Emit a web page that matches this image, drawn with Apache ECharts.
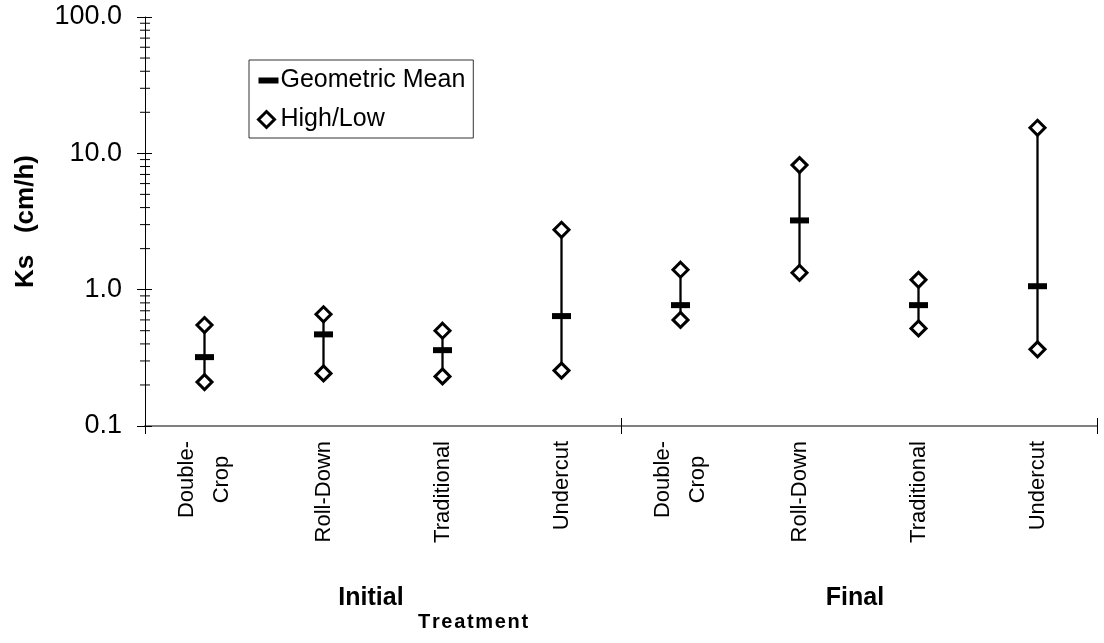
<!DOCTYPE html>
<html>
<head>
<meta charset="utf-8">
<script src="https://cdn.jsdelivr.net/npm/echarts@6/dist/echarts.min.js"></script>
<style>html,body{margin:0;padding:0;background:#fff;}#c{width:1104px;height:643px;}</style>
</head>
<body>
<div id="c"></div>
<script>
const categories = ['Double-\nCrop','Roll-Down','Traditional','Undercut','Double-\nCrop','Roll-Down','Traditional','Undercut'];
const groups = ['Initial','Final'];
const meanValues = [0.32, 0.47, 0.36, 0.64, 0.77, 3.22, 0.77, 1.06];
const highValues = [0.55, 0.66, 0.50, 2.75, 1.40, 8.2, 1.18, 15.4];
const lowValues  = [0.21, 0.243, 0.231, 0.255, 0.60, 1.33, 0.52, 0.365];
const yMin = 0.1, yMax = 100;
const minorTickValues = [0.2,0.3,0.4,0.5,0.6,0.7,0.8,0.9,2,3,4,5,6,7,8,9,20,30,40,50,60,70,80,90];
const yAxisTitle = 'Ks   (cm/h)';
const xAxisTitle = 'Treatment';

const FONT = 'Liberation Sans, Arial, sans-serif';
const chart = echarts.init(document.getElementById('c'), null, {renderer:'canvas'});

const rangeData = categories.map((c,i)=>[i, lowValues[i], highValues[i]]);
const meanData = categories.map((c,i)=>[i, meanValues[i]]);
const hlData = [];
categories.forEach((c,i)=>{ hlData.push([i, highValues[i]]); hlData.push([i, lowValues[i]]); });
const minorData = minorTickValues.map(v=>[0, v]);

const yBase = {type:'log', logBase:10, min:yMin, max:yMax, splitLine:{show:false}};

chart.setOption({
  animation:false,
  textStyle:{fontFamily:FONT, color:'#000'},
  grid:{left:145, right:7, top:17, bottom:217, containLabel:false},
  legend:{
    orient:'vertical', left:249, top:60,
    padding:[8,8,6,6], itemGap:14, itemWidth:22, itemHeight:20,
    borderColor:'#333', borderWidth:1, backgroundColor:'#fff',
    textStyle:{fontSize:25, fontFamily:FONT, color:'#000', padding:[0,0,0,-3]},
    data:[
      {name:'Geometric Mean', icon:'path://M0,0 M2,7 L22,7 L22,13 L2,13 Z M22,20', itemStyle:{color:'#000', borderWidth:0, opacity:1}},
      {name:'High/Low', icon:'path://M0,0 M10,2 L18,10 L10,18 L2,10 Z M22,20', itemStyle:{color:'#fff', borderColor:'#000', borderWidth:3, opacity:1}}
    ]
  },
  xAxis:[
    {type:'category', data:categories, position:'bottom', boundaryGap:true,
     axisLine:{show:true, lineStyle:{color:'#808080', width:2}},
     axisTick:{show:false},
     axisLabel:{rotate:90, margin:15, interval:0, fontSize:22, color:'#000', fontFamily:FONT,
       formatter:(v)=>v.split('\n').map(s=>'{c|'+s+'}').join('\n'),
       rich:{c:{align:'center', fontSize:22, lineHeight:35, fontFamily:FONT, color:'#000'}}}},
    {type:'category', data:groups, position:'bottom', boundaryGap:true,
     axisLine:{show:false},
     axisTick:{show:true, length:8, lineStyle:{color:'#000', width:1}},
     axisLabel:{margin:160, fontSize:25, fontWeight:'bold', color:'#000', fontFamily:FONT,
       formatter:(v)=>(v===groups[0]?'{a|':'{b|')+v+'}',
       rich:{a:{fontSize:25, fontWeight:'bold', padding:[0,24,0,0]}, b:{fontSize:25, fontWeight:'bold', padding:[0,8,0,0]}}}},
    {type:'category', data:groups, position:'bottom', boundaryGap:true,
     axisLine:{show:false},
     axisTick:{show:true, inside:true, length:8, lineStyle:{color:'#000', width:1}},
     axisLabel:{show:false}}
  ],
  yAxis:[
    Object.assign({}, yBase, {
      name:yAxisTitle, nameLocation:'middle', nameGap:106,
      nameTextStyle:{fontSize:26, fontWeight:'bold', color:'#000', fontFamily:FONT},
      axisLine:{show:true, lineStyle:{color:'#000', width:1}},
      axisTick:{show:true, length:8, lineStyle:{color:'#000', width:1}},
      axisLabel:{fontSize:27, margin:23, color:'#000', fontFamily:FONT, formatter:(v)=>Number(v).toFixed(1)}
    }),
    Object.assign({}, yBase, {
      position:'left',
      axisLine:{show:false},
      axisTick:{show:true, inside:true, length:7, lineStyle:{color:'#000', width:1}},
      axisLabel:{show:false}
    })
  ],
  series:[
    {type:'custom', name:'minor', xAxisIndex:0, yAxisIndex:0, silent:true, clip:false,
     data:minorData,
     renderItem:(params, api)=>{
       const cs = params.coordSys;
       const y = api.coord([0, api.value(1)])[1];
       return {type:'line', shape:{x1:cs.x-5, y1:y, x2:cs.x+5, y2:y}, style:{stroke:'#000', lineWidth:1}};
     }},
    {type:'custom', name:'range', xAxisIndex:0, yAxisIndex:0, silent:true,
     data:rangeData,
     renderItem:(params, api)=>{
       const p1 = api.coord([api.value(0), api.value(1)]);
       const p2 = api.coord([api.value(0), api.value(2)]);
       return {type:'line', shape:{x1:p1[0], y1:p1[1], x2:p2[0], y2:p2[1]}, style:{stroke:'#000', lineWidth:2.3}};
     }},
    {type:'scatter', name:'Geometric Mean', xAxisIndex:0, yAxisIndex:0, data:meanData,
     symbol:'rect', symbolSize:[19,6], itemStyle:{color:'#000', opacity:1}, z:3},
    {type:'scatter', name:'High/Low', xAxisIndex:0, yAxisIndex:0, data:hlData,
     symbol:'diamond', symbolSize:15, itemStyle:{color:'#fff', borderColor:'#000', borderWidth:3, opacity:1}, z:4}
  ],
  graphic:[
    {type:'text', left:418, top:612,
     style:{text:xAxisTitle.split('').join('\u200A'), font:'bold 20px '+FONT, fill:'#000'}}
  ]
});
</script>
</body>
</html>
